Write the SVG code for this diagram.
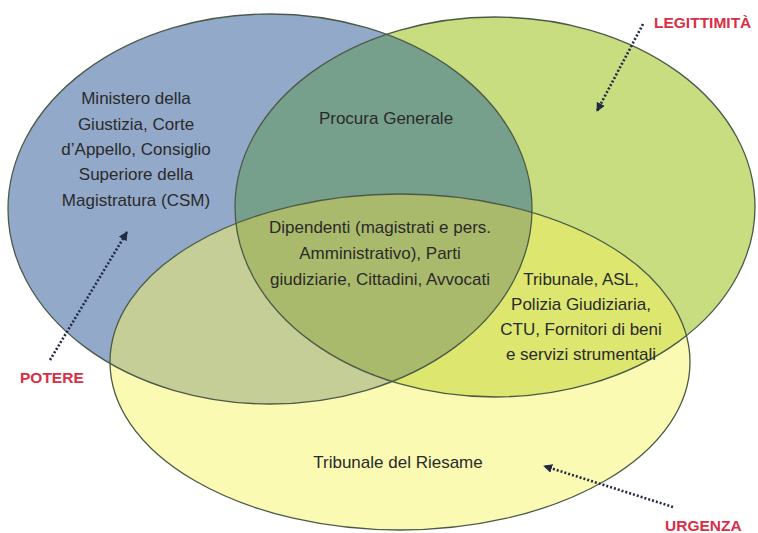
<svg xmlns="http://www.w3.org/2000/svg" width="758" height="533" viewBox="0 0 758 533">
<style>
.lbl{font-family:"Liberation Sans",Arial,sans-serif;font-size:17px;fill:#2a2a2a;text-anchor:middle}
.key{font-family:"Liberation Sans",Arial,sans-serif;font-size:15.5px;font-weight:bold;fill:#d92e45}
.outline{fill:none;stroke:#4b5a47;stroke-width:1.3}
.arrow{fill:none;stroke:#232a46;stroke-width:2.6;stroke-dasharray:2 2;marker-end:url(#head)}
</style>
<defs>
<ellipse id="eB" cx="270" cy="209" rx="262" ry="195"/>
<ellipse id="eG" cx="495" cy="207" rx="260" ry="190"/>
<ellipse id="eY" cx="400" cy="362" rx="290" ry="168"/>
<clipPath id="cB"><use href="#eB"/></clipPath>
<clipPath id="cG"><use href="#eG"/></clipPath>
<marker id="head" viewBox="0 0 10 10" refX="9" refY="5" markerWidth="9" markerHeight="9" markerUnits="userSpaceOnUse" orient="auto">
<path d="M0,0 L10,5 L0,10 z" fill="#232a46"/>
</marker>
</defs>
<rect width="758" height="533" fill="#ffffff"/>
<g id="fills">
<use href="#eB" fill="#93a9c9"/>
<use href="#eG" fill="#c8dd80"/>
<use href="#eG" fill="#77a08c" clip-path="url(#cB)"/>
<use href="#eY" fill="#fafab2"/>
<use href="#eY" fill="#c4ce96" clip-path="url(#cB)"/>
<use href="#eY" fill="#dde66f" clip-path="url(#cG)"/>
<g clip-path="url(#cB)"><use href="#eY" fill="#aaba6c" clip-path="url(#cG)"/></g>
</g>
<g id="potere">
<use href="#eB" class="outline"/>
<text class="lbl" x="136" y="104">Ministero della</text>
<text class="lbl" x="136" y="130">Giustizia, Corte</text>
<text class="lbl" x="136" y="155">d’Appello, Consiglio</text>
<text class="lbl" x="136" y="180">Superiore della</text>
<text class="lbl" x="136" y="206">Magistratura (CSM)</text>
</g>
<g id="legittimita">
<use href="#eG" class="outline"/>
</g>
<g id="urgenza">
<use href="#eY" class="outline"/>
<text class="lbl" x="398" y="468">Tribunale del Riesame</text>
</g>
<g id="procura">
<text class="lbl" x="386" y="124">Procura Generale</text>
</g>
<g id="centro">
<text class="lbl" x="380" y="233">Dipendenti (magistrati e pers.</text>
<text class="lbl" x="380" y="259">Amministrativo), Parti</text>
<text class="lbl" x="380" y="285">giudiziarie, Cittadini, Avvocati</text>
</g>
<g id="tribunale">
<text class="lbl" x="581" y="285">Tribunale, ASL,</text>
<text class="lbl" x="581" y="310">Polizia Giudiziaria,</text>
<text class="lbl" x="581" y="335">CTU, Fornitori di beni</text>
<text class="lbl" x="581" y="360">e servizi strumentali</text>
</g>
<g id="labels">
<text class="key" x="654" y="28">LEGITTIMITÀ</text>
<text class="key" x="20" y="383">POTERE</text>
<text class="key" x="665" y="531">URGENZA</text>
</g>
<g id="connectors">
<path class="arrow" d="M643,24 L597,111"/>
<path class="arrow" d="M50,360 L127,232"/>
<path class="arrow" d="M673,507 L544,466"/>
</g>
</svg>
